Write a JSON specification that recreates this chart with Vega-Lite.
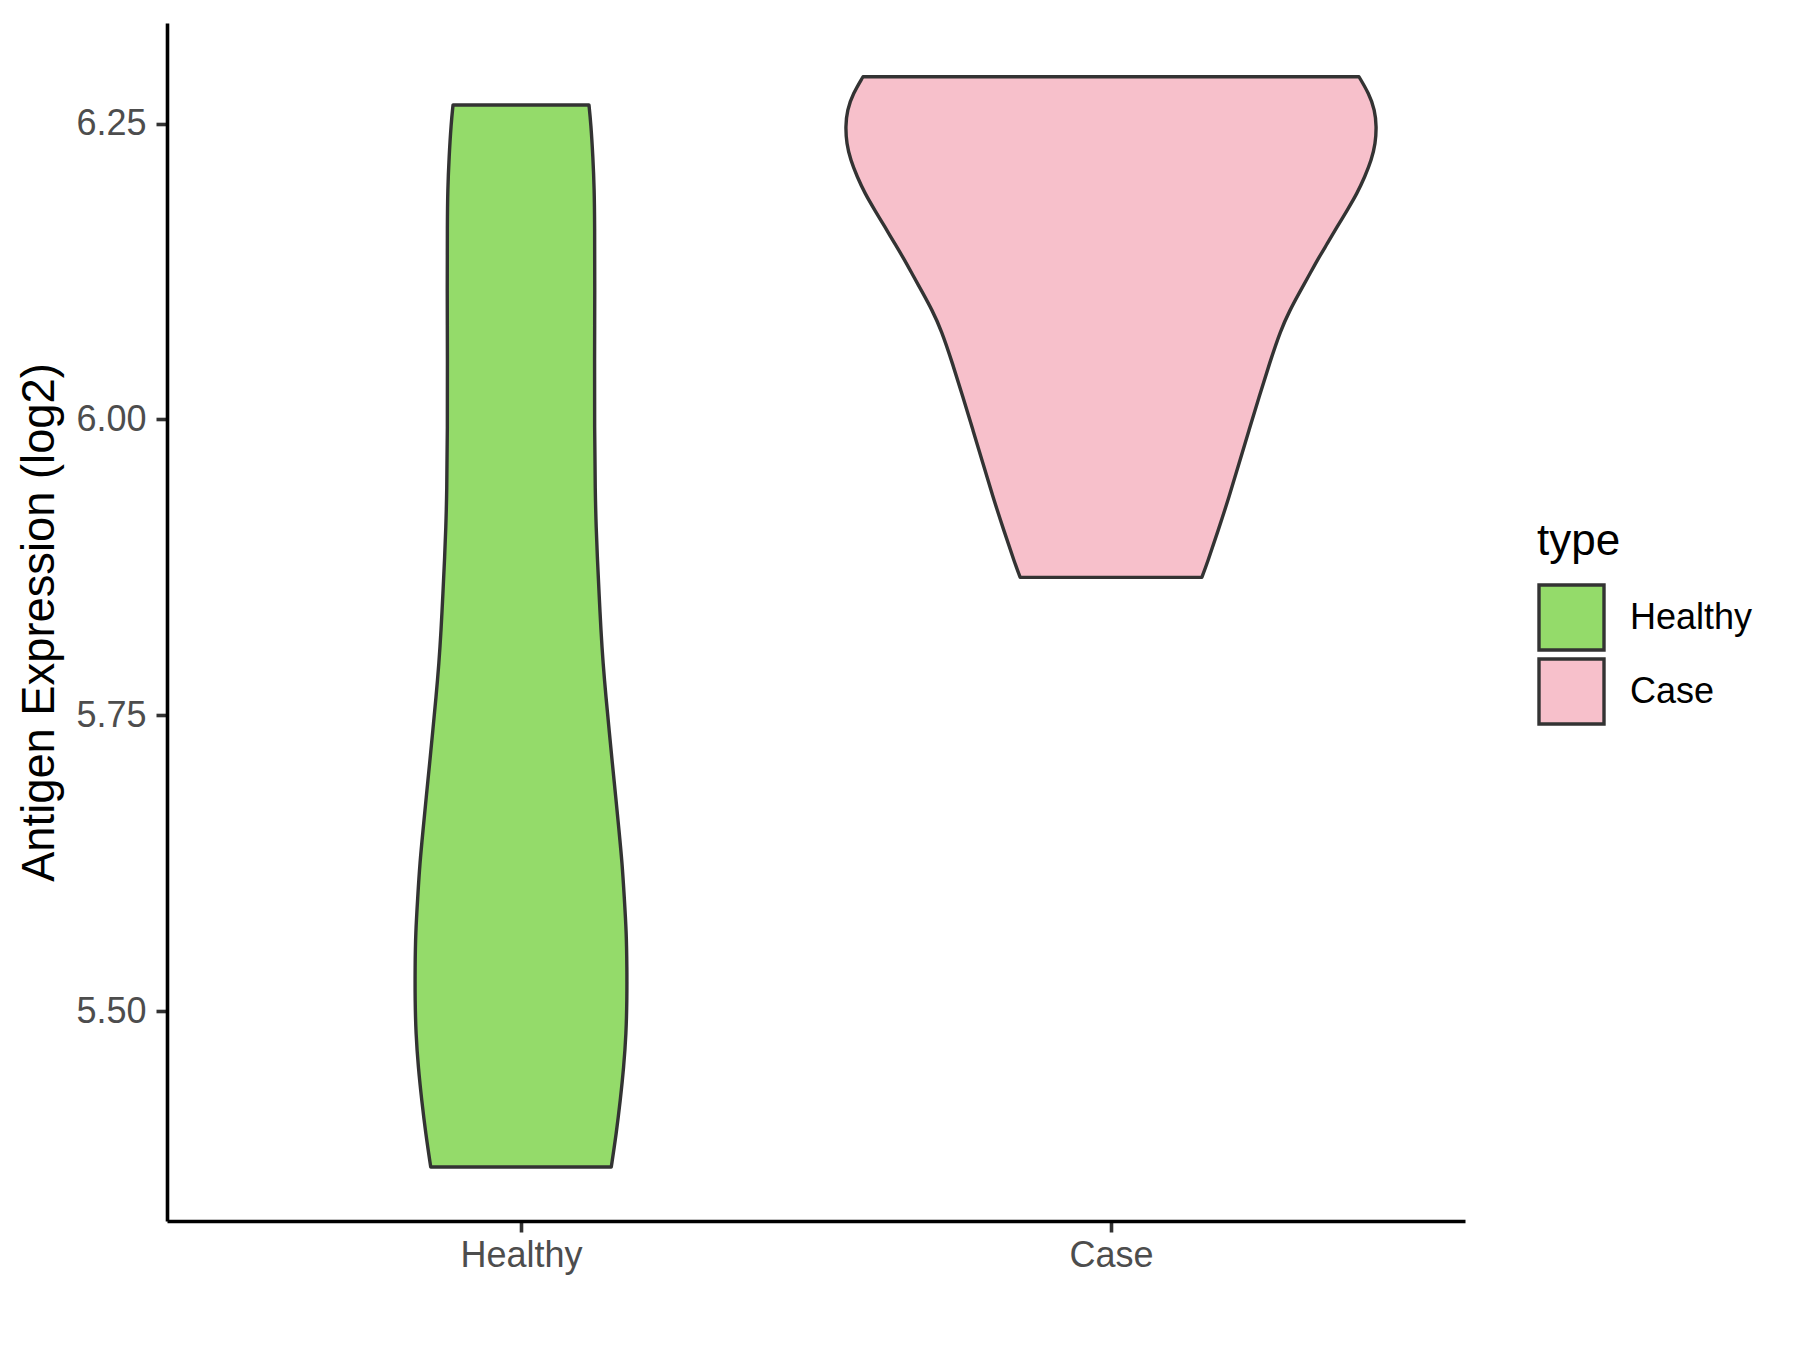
{
  "$schema": "https://vega.github.io/schema/vega-lite/v6.json",
  "width": 1298,
  "height": 1198,
  "autosize": {"type": "none"},
  "padding": {"left": 167, "top": 23, "right": 335, "bottom": 129},
  "background": "white",
  "data": {
    "values": [
      {"type": "Healthy", "expr": 5.3685, "density": 0.340},
      {"type": "Healthy", "expr": 5.3970, "density": 0.359},
      {"type": "Healthy", "expr": 5.4248, "density": 0.374},
      {"type": "Healthy", "expr": 5.4527, "density": 0.387},
      {"type": "Healthy", "expr": 5.4814, "density": 0.396},
      {"type": "Healthy", "expr": 5.5093, "density": 0.399},
      {"type": "Healthy", "expr": 5.5372, "density": 0.399},
      {"type": "Healthy", "expr": 5.5660, "density": 0.397},
      {"type": "Healthy", "expr": 5.5964, "density": 0.389},
      {"type": "Healthy", "expr": 5.6251, "density": 0.381},
      {"type": "Healthy", "expr": 5.6530, "density": 0.369},
      {"type": "Healthy", "expr": 5.6809, "density": 0.357},
      {"type": "Healthy", "expr": 5.7096, "density": 0.344},
      {"type": "Healthy", "expr": 5.7375, "density": 0.332},
      {"type": "Healthy", "expr": 5.7654, "density": 0.320},
      {"type": "Healthy", "expr": 5.7941, "density": 0.309},
      {"type": "Healthy", "expr": 5.8220, "density": 0.301},
      {"type": "Healthy", "expr": 5.8533, "density": 0.294},
      {"type": "Healthy", "expr": 5.8812, "density": 0.288},
      {"type": "Healthy", "expr": 5.9090, "density": 0.283},
      {"type": "Healthy", "expr": 5.9378, "density": 0.2795},
      {"type": "Healthy", "expr": 5.9935, "density": 0.277},
      {"type": "Healthy", "expr": 6.0501, "density": 0.277},
      {"type": "Healthy", "expr": 6.1093, "density": 0.278},
      {"type": "Healthy", "expr": 6.1659, "density": 0.2775},
      {"type": "Healthy", "expr": 6.1938, "density": 0.276},
      {"type": "Healthy", "expr": 6.2217, "density": 0.271},
      {"type": "Healthy", "expr": 6.2504, "density": 0.263},
      {"type": "Healthy", "expr": 6.2656, "density": 0.256},
      {"type": "Case", "expr": 5.8666, "density": 0.342},
      {"type": "Case", "expr": 5.8784, "density": 0.362},
      {"type": "Case", "expr": 5.9065, "density": 0.404},
      {"type": "Case", "expr": 5.9347, "density": 0.445},
      {"type": "Case", "expr": 5.9629, "density": 0.482},
      {"type": "Case", "expr": 5.9910, "density": 0.520},
      {"type": "Case", "expr": 6.0191, "density": 0.558},
      {"type": "Case", "expr": 6.0474, "density": 0.597},
      {"type": "Case", "expr": 6.0755, "density": 0.639},
      {"type": "Case", "expr": 6.0924, "density": 0.674},
      {"type": "Case", "expr": 6.1065, "density": 0.708},
      {"type": "Case", "expr": 6.1205, "density": 0.743},
      {"type": "Case", "expr": 6.1346, "density": 0.777},
      {"type": "Case", "expr": 6.1487, "density": 0.815},
      {"type": "Case", "expr": 6.1628, "density": 0.852},
      {"type": "Case", "expr": 6.1769, "density": 0.890},
      {"type": "Case", "expr": 6.1910, "density": 0.927},
      {"type": "Case", "expr": 6.2050, "density": 0.956},
      {"type": "Case", "expr": 6.2191, "density": 0.981},
      {"type": "Case", "expr": 6.2332, "density": 0.996},
      {"type": "Case", "expr": 6.2473, "density": 1.000},
      {"type": "Case", "expr": 6.2614, "density": 0.994},
      {"type": "Case", "expr": 6.2755, "density": 0.971},
      {"type": "Case", "expr": 6.2895, "density": 0.934}
    ]
  },
  "transform": [
    {"calculate": "datum.type === 'Healthy' ? 1 : 2", "as": "pos"},
    {"calculate": "datum.pos - 0.45 * datum.density", "as": "lo"},
    {"calculate": "datum.pos + 0.45 * datum.density", "as": "hi"}
  ],
  "mark": {
    "type": "area",
    "orient": "horizontal",
    "interpolate": "basis",
    "stroke": "#333333",
    "strokeWidth": 3.4,
    "strokeJoin": "round",
    "opacity": 1
  },
  "encoding": {
    "y": {
      "field": "expr",
      "type": "quantitative",
      "scale": {"domain": [5.3229, 6.3349], "nice": false, "zero": false},
      "axis": {"values": [5.5, 5.75, 6.0, 6.25], "format": ".2f", "title": "Antigen Expression (log2)"}
    },
    "x": {
      "field": "lo",
      "type": "quantitative",
      "scale": {"domain": [0.4, 2.6], "nice": false, "zero": false},
      "axis": {"values": [1, 2], "labelExpr": "datum.value === 1 ? 'Healthy' : 'Case'", "title": null, "labelPadding": 6.5}
    },
    "x2": {"field": "hi"},
    "fill": {
      "field": "type",
      "type": "nominal",
      "scale": {"domain": ["Healthy", "Case"], "range": ["#94DB6A", "#F7C0CB"]},
      "legend": {
        "title": "type",
        "orient": "none",
        "legendX": 1370,
        "legendY": 497,
        "symbolType": "square",
        "symbolSize": 4225,
        "symbolStrokeColor": "#333333",
        "symbolStrokeWidth": 3.4,
        "symbolOpacity": 1,
        "labelFont": "Liberation Sans",
        "labelFontSize": 36,
        "labelColor": "black",
        "labelOffset": 24,
        "titleFont": "Liberation Sans",
        "titleFontSize": 44,
        "titleFontWeight": "normal",
        "titleColor": "black",
        "titlePadding": 19,
        "rowPadding": -7,
        "padding": 0
      }
    }
  },
  "config": {
    "view": {"stroke": null},
    "axis": {
      "domainColor": "black",
      "domainWidth": 3.6,
      "tickColor": "#333333",
      "tickWidth": 3.6,
      "tickSize": 11,
      "labelFont": "Liberation Sans",
      "labelFontSize": 36,
      "labelColor": "#4D4D4D",
      "labelPadding": 10,
      "grid": false,
      "titleFont": "Liberation Sans",
      "titleFontSize": 45.3,
      "titleFontWeight": "normal",
      "titleColor": "black"
    },
    "axisY": {"titlePadding": 12}
  }
}
